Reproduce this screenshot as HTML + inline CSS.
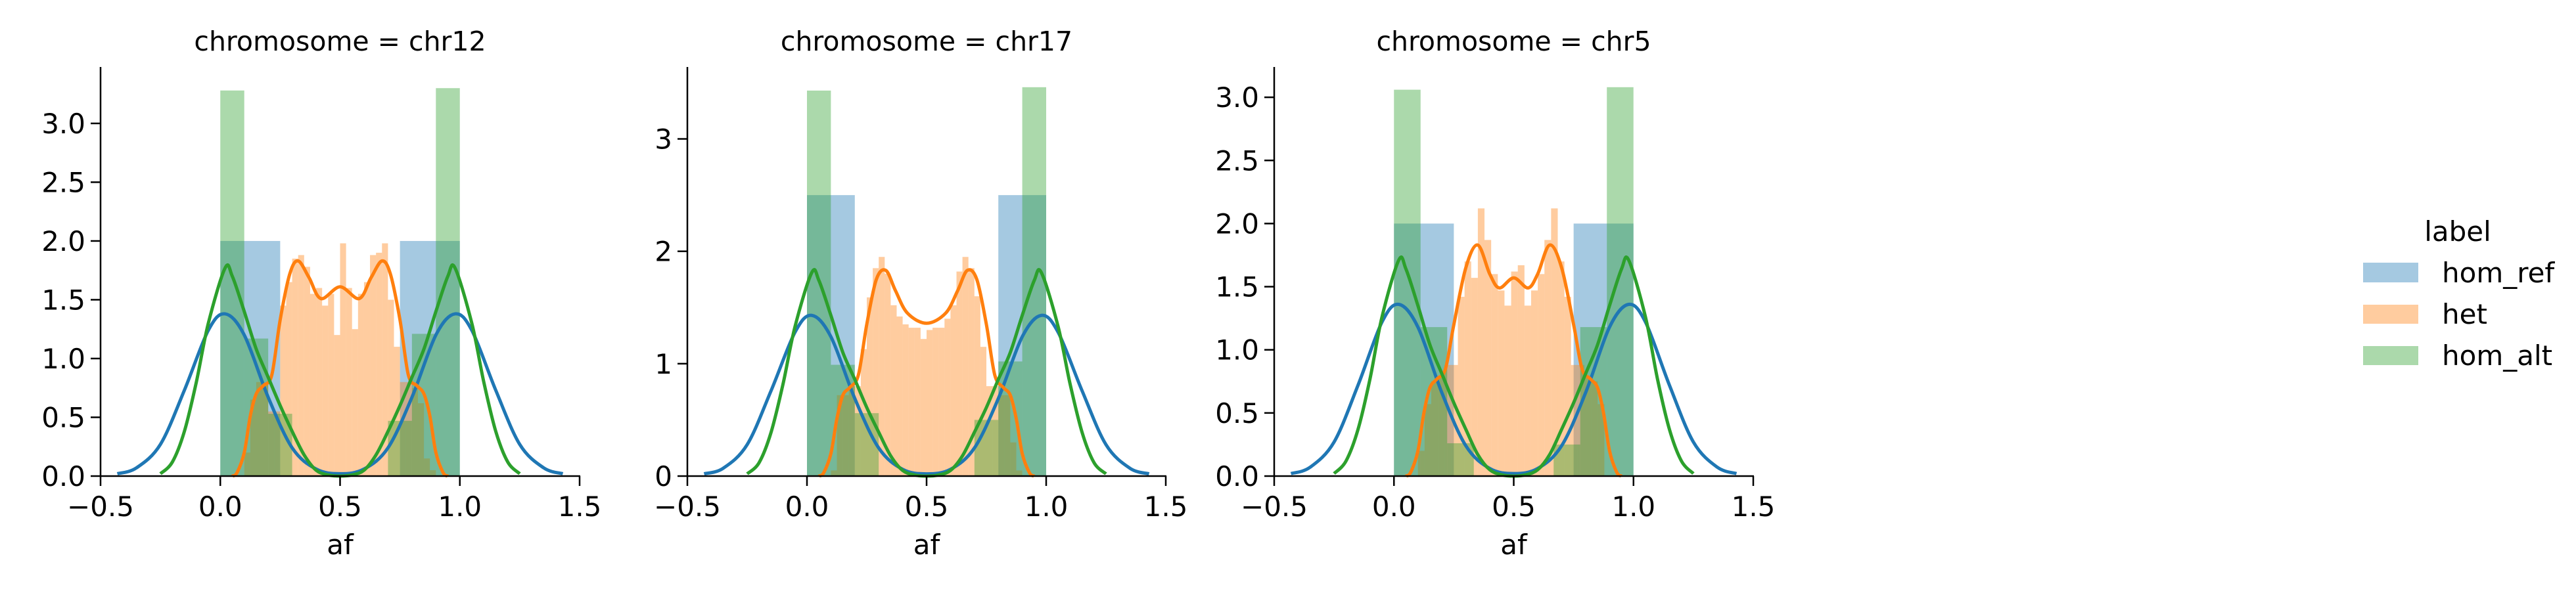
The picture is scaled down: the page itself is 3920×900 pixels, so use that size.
<!DOCTYPE html>
<html><head><meta charset="utf-8"><style>
html,body{margin:0;padding:0;background:#fff;}
svg{display:block;font-family:"DejaVu Sans","Liberation Sans",sans-serif;}
</style></head><body>
<svg id="chart" width="3920" height="900" viewBox="0 0 3920 900">
<g id="legend">
  <text x="3740" y="367" font-size="42" text-anchor="middle">label</text>
  <g><rect x="3596" y="400" width="84" height="30" fill="#1f77b4" fill-opacity="0.4"/><text x="3716" y="430" font-size="42">hom_ref</text></g>
  <g><rect x="3596" y="464" width="84" height="29" fill="#ff7f0e" fill-opacity="0.4"/><text x="3716" y="493" font-size="42">het</text></g>
  <g><rect x="3596" y="527" width="84" height="29" fill="#2ca02c" fill-opacity="0.4"/><text x="3716" y="556" font-size="42">hom_alt</text></g>
</g>
</svg>
<script>
// ---- data ----
const chromosomes = ['chr12','chr17','chr5'];
const xTicks = [-0.5,0,0.5,1,1.5];
const xTickLabels = ['\u22120.5','0.0','0.5','1.0','1.5'];
const yTicks_chr12 = [0,0.5,1,1.5,2,2.5,3];
const yTickLabels_chr12 = ['0.0','0.5','1.0','1.5','2.0','2.5','3.0'];
const yTicks_chr17 = [0,1,2,3];
const yTickLabels_chr17 = ['0','1','2','3'];
const yTicks_chr5 = [0,0.5,1,1.5,2,2.5,3];
const yTickLabels_chr5 = ['0.0','0.5','1.0','1.5','2.0','2.5','3.0'];
const yMax = [3.48,3.64,3.24];

// hom_ref histograms
const refBinStart = [0,0,0];
const refBinWidth = [0.25,0.2,0.25];
const refHeights_chr12 = [2,0,0,2];
const refHeights_chr17 = [2.5,0,0,0,2.5];
const refHeights_chr5 = [2,0,0,2];
// het histograms
const hetBinStart = [0.1,0.1,0.1];
const hetBinWidth = [0.025,0.025,0.0278];
const hetHeights_chr12 = [0.2,0.65,0.8,0.78,0.55,0.55,1.45,1.65,1.85,1.88,1.78,1.55,1.6,1.45,1.55,1.2,1.98,1.6,1.25,1.55,1.65,1.88,1.9,1.98,1.5,1.1,0.8,0.8,0.75,0.62,0.15,0.05];
const hetHeights_chr17 = [0.05,0.72,0.72,0.8,0.8,1.13,1.59,1.85,1.95,1.8,1.52,1.42,1.35,1.32,1.32,1.22,1.3,1.32,1.32,1.4,1.52,1.82,1.95,1.85,1.6,1.15,0.8,0.8,0.72,0.72,0.3,0.05];
const hetHeights_chr5 = [0.2,0.57,0.75,0.78,0.88,0.88,1.42,1.7,1.57,2.12,1.87,1.6,1.47,1.35,1.62,1.67,1.35,1.47,1.6,1.87,2.12,1.7,1.42,0.88,0.88,0.78,0.75,0.57];
// hom_alt histograms
const altBinStart = [0,0,0];
const altBinWidth = [0.1,0.1,0.1111];
const altHeights_chr12 = [3.28,1.17,0.53,0,0,0,0,0.47,1.21,3.30];
const altHeights_chr17 = [3.43,0.99,0.56,0,0,0,0,0.50,1.02,3.46];
const altHeights_chr5 = [3.06,1.18,0.26,0,0,0,0.25,1.18,3.08];

// KDE curves
const refKdeX = [-0.43,-0.35,-0.25,-0.15,-0.05,0.02,0.1,0.2,0.3,0.4,0.5,0.6,0.7,0.8,0.9,0.98,1.05,1.15,1.25,1.35,1.43];
const refKde_chr12 = [0.02,0.07,0.27,0.73,1.24,1.38,1.2,0.67,0.24,0.06,0.02,0.06,0.24,0.67,1.2,1.38,1.24,0.73,0.27,0.07,0.02];
const refKde_chr17 = [0.02,0.07,0.28,0.76,1.28,1.43,1.24,0.69,0.25,0.06,0.02,0.06,0.25,0.69,1.24,1.43,1.28,0.76,0.28,0.07,0.02];
const refKde_chr5 = [0.02,0.07,0.27,0.72,1.22,1.36,1.18,0.66,0.24,0.06,0.02,0.06,0.24,0.66,1.18,1.36,1.22,0.72,0.27,0.07,0.02];
const altKdeX = [-0.25,-0.2,-0.15,-0.1,-0.05,0.02,0.05,0.1,0.15,0.2,0.25,0.3,0.35,0.4,0.45,0.5,0.55,0.6,0.65,0.7,0.75,0.8,0.85,0.9,0.95,0.98,1.05,1.1,1.15,1.2,1.25];
const altKde_chr12 = [0.02,0.12,0.38,0.8,1.3,1.77,1.7,1.4,1.08,0.84,0.6,0.38,0.18,0.05,0.01,0,0.01,0.05,0.18,0.38,0.6,0.84,1.08,1.4,1.7,1.77,1.3,0.8,0.38,0.12,0.02];
const altKde_chr17 = [0.02,0.12,0.39,0.82,1.33,1.81,1.74,1.43,1.1,0.86,0.61,0.39,0.18,0.05,0.01,0,0.01,0.05,0.18,0.39,0.61,0.86,1.1,1.43,1.74,1.81,1.33,0.82,0.39,0.12,0.02];
const altKde_chr5 = [0.02,0.12,0.37,0.77,1.26,1.71,1.64,1.35,1.04,0.81,0.58,0.37,0.17,0.05,0.01,0,0.01,0.05,0.17,0.37,0.58,0.81,1.04,1.35,1.64,1.71,1.26,0.77,0.37,0.12,0.02];
const hetKdeX_chr12 = [0.05,0.07,0.1,0.125,0.15,0.18,0.215,0.25,0.29,0.325,0.37,0.42,0.5,0.58,0.63,0.675,0.71,0.75,0.785,0.82,0.85,0.875,0.9,0.93,0.95];
const hetKde_chr12 = [0,0.03,0.2,0.51,0.7,0.77,0.86,1.33,1.72,1.83,1.69,1.51,1.61,1.51,1.69,1.83,1.72,1.33,0.86,0.77,0.7,0.51,0.2,0.03,0];
const hetKdeX_chr17 = [0.05,0.07,0.1,0.125,0.15,0.18,0.215,0.25,0.29,0.33,0.37,0.42,0.5,0.58,0.63,0.67,0.71,0.75,0.785,0.82,0.85,0.875,0.9,0.93,0.95];
const hetKde_chr17 = [0,0.03,0.2,0.51,0.72,0.79,0.9,1.35,1.75,1.83,1.65,1.45,1.36,1.45,1.65,1.83,1.75,1.35,0.9,0.79,0.72,0.51,0.2,0.03,0];
const hetKdeX_chr5 = [0.05,0.07,0.1,0.125,0.15,0.18,0.215,0.25,0.3,0.35,0.4,0.44,0.5,0.56,0.6,0.65,0.7,0.75,0.785,0.82,0.85,0.875,0.9,0.93,0.95];
const hetKde_chr5 = [0,0.03,0.2,0.5,0.7,0.77,0.85,1.2,1.65,1.83,1.6,1.49,1.57,1.49,1.6,1.83,1.65,1.2,0.85,0.77,0.7,0.5,0.2,0.03,0];

// ---- layout ----
const NS = 'http://www.w3.org/2000/svg';
const svg = document.getElementById('chart');
const axLeft = [153,1046,1939];
const axRight = [882,1774,2668];
const yBase = 725, yTop = 102;
const C = {ref:'#1f77b4', het:'#ff7f0e', alt:'#2ca02c'};

function mk(tag, attrs, parent){
  const e = document.createElementNS(NS, tag);
  for (const k in attrs) e.setAttribute(k, attrs[k]);
  parent.appendChild(e);
  return e;
}
function smoothPath(pts){
  let d = 'M' + pts[0][0].toFixed(2) + ',' + pts[0][1].toFixed(2);
  for (let i = 0; i < pts.length - 1; i++){
    const p0 = pts[Math.max(i-1,0)], p1 = pts[i], p2 = pts[i+1], p3 = pts[Math.min(i+2,pts.length-1)];
    const c1x = p1[0] + (p2[0]-p0[0])/6, c1y = p1[1] + (p2[1]-p0[1])/6;
    const c2x = p2[0] - (p3[0]-p1[0])/6, c2y = p2[1] - (p3[1]-p1[1])/6;
    d += 'C' + c1x.toFixed(2)+','+c1y.toFixed(2)+' '+c2x.toFixed(2)+','+c2y.toFixed(2)+' '+p2[0].toFixed(2)+','+p2[1].toFixed(2);
  }
  return d;
}

const refH = [refHeights_chr12, refHeights_chr17, refHeights_chr5];
const hetH = [hetHeights_chr12, hetHeights_chr17, hetHeights_chr5];
const altH = [altHeights_chr12, altHeights_chr17, altHeights_chr5];
const refK = [refKde_chr12, refKde_chr17, refKde_chr5];
const altK = [altKde_chr12, altKde_chr17, altKde_chr5];
const hetKX = [hetKdeX_chr12, hetKdeX_chr17, hetKdeX_chr5];
const hetK = [hetKde_chr12, hetKde_chr17, hetKde_chr5];
const yT = [yTicks_chr12, yTicks_chr17, yTicks_chr5];
const yTL = [yTickLabels_chr12, yTickLabels_chr17, yTickLabels_chr5];

chromosomes.forEach((chr, p) => {
  const xs = v => axLeft[p] + (v - (-0.5)) / 2 * (axRight[p] - axLeft[p]);
  const ys = v => yBase - v / yMax[p] * (yBase - yTop);
  const g = mk('g', {}, svg);
  
  
  const cx = (axLeft[p] + axRight[p]) / 2;
  const title = mk('text', {x: cx, y: 77, 'font-size': 41, 'text-anchor': 'middle'}, g);
  title.textContent = 'chromosome = ' + chr;
  
  

  function hist(start, w, hs, color, name){
    const hg = mk('g', {}, g);
    
    
    hs.forEach((h, i) => {
      if (h <= 0) return;
      const x0 = xs(start + i*w), x1 = xs(start + (i+1)*w);
      const r = mk('rect', {x: x0, y: ys(h), width: x1 - x0, height: yBase - ys(h), fill: color, 'fill-opacity': 0.4}, hg);
      
      
    });
  }
  function kde(xArr, yArr, color, name){
    const pts = xArr.map((x, i) => [xs(x), ys(yArr[i])]);
    const path = mk('path', {d: smoothPath(pts), fill: 'none', stroke: color, 'stroke-width': 5, 'stroke-linejoin': 'round'}, g);
    
    
  }
  hist(refBinStart[p], refBinWidth[p], refH[p], C.ref, 'hom-ref');
  hist(hetBinStart[p], hetBinWidth[p], hetH[p], C.het, 'het');
  hist(altBinStart[p], altBinWidth[p], altH[p], C.alt, 'hom-alt');
  kde(refKdeX, refK[p], C.ref, 'hom-ref');
  kde(hetKX[p], hetK[p], C.het, 'het');
  kde(altKdeX, altK[p], C.alt, 'hom-alt');

  // axes
  const ya = mk('line', {x1: axLeft[p], x2: axLeft[p], y1: yTop, y2: yBase + 1, stroke: '#000', 'stroke-width': 2.5}, g);
  
  
  const xa = mk('line', {x1: axLeft[p] - 1, x2: axRight[p] + 1, y1: yBase, y2: yBase, stroke: '#000', 'stroke-width': 2.5}, g);
  
  
  xTicks.forEach((t, i) => {
    mk('line', {x1: xs(t), x2: xs(t), y1: yBase, y2: yBase + 15, stroke: '#000', 'stroke-width': 2.5}, g);
    const tl = mk('text', {x: xs(t), y: 786, 'font-size': 42, 'text-anchor': 'middle'}, g);
    tl.textContent = xTickLabels[i];
    
    
  });
  yT[p].forEach((t, i) => {
    mk('line', {x1: axLeft[p] - 15, x2: axLeft[p], y1: ys(t), y2: ys(t), stroke: '#000', 'stroke-width': 2.5}, g);
    const tl = mk('text', {x: axLeft[p] - 23, y: ys(t) + 15, 'font-size': 42, 'text-anchor': 'end'}, g);
    tl.textContent = yTL[p][i];
    
    
  });
  const xl = mk('text', {x: cx, y: 844, 'font-size': 42, 'text-anchor': 'middle'}, g);
  xl.textContent = 'af';
  
  
});
</script>
</body></html>
